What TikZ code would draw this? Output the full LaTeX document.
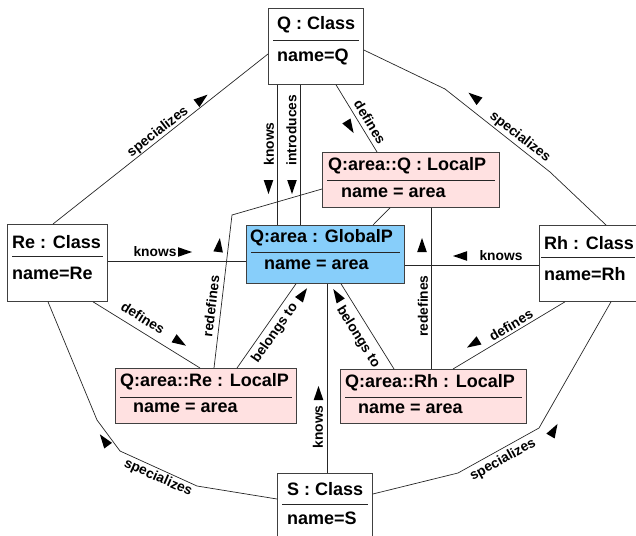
\documentclass[tikz,border=0pt]{standalone}
\usepackage{fontspec}
\setmainfont{Liberation Sans}
\usetikzlibrary{calc}
\definecolor{globblue}{RGB}{135,206,250}
\definecolor{locpink}{RGB}{255,225,225}
\begin{document}
\begin{tikzpicture}[x=1pt,y=-1pt,
	headtri/.pic={\fill[black] (7,0) -- (-7,4.8) -- (-7,-4.8) -- cycle;}]
	\tikzstyle{cls} = [rectangle,draw=black!75,line width=0.8pt,anchor=north west,inner sep=0pt,
	minimum width=95pt,minimum height=76pt,fill=white]
	\tikzstyle{glob} = [cls,fill=globblue,minimum width=158pt,minimum height=58pt]
	\tikzstyle{loc} = [cls,fill=locpink,minimum height=55pt]
	\tikzstyle{ttl} = [anchor=west,inner sep=0pt,font=\bfseries\fontsize{18}{20}\selectfont]
	\tikzstyle{sepline} = [draw=black!85,line width=0.8pt]
	\tikzstyle{link} = [draw=black!85,line width=0.7pt]
	\tikzstyle{lbl} = [inner sep=0pt,font=\bfseries\fontsize{13.8}{15}\selectfont]

	\useasboundingbox (0,0) rectangle (636,535);

	\node (Q) [cls] at (268,8) {};
	\node (Qt) [ttl] at ($(Q.north west)+(9,17)$) {Q : Class};
	\draw [sepline] ($(Q.north west)+(5,32)$) -- ($(Q.north east)+(-5,32)$);
	\node (Qn) [ttl] at ($(Q.north west)+(9,49)$) {name=Q};

	\node (Re) [cls,minimum width=100pt,minimum height=77pt] at (7,224) {};
	\node (Ret) [ttl] at ($(Re.north west)+(5,18)$) {Re : Class};
	\draw [sepline] ($(Re.north west)+(5,32)$) -- ($(Re.north east)+(-5,32)$);
	\node (Ren) [ttl] at ($(Re.north west)+(5,49)$) {name=Re};

	\node (Rh) [cls,minimum width=100pt] at (539,225) {};
	\node (Rht) [ttl] at ($(Rh.north west)+(5,18)$) {Rh : Class};
	\draw [sepline] ($(Rh.north west)+(2,32)$) -- ($(Rh.north east)+(-5,32)$);
	\node (Rhn) [ttl] at ($(Rh.north west)+(5,49)$) {name=Rh};

	\node (S) [cls] at (277,473) {};
	\node (St) [ttl] at ($(S.north west)+(10,16)$) {S : Class};
	\draw [sepline] ($(S.north west)+(5,31)$) -- ($(S.north east)+(-5,31)$);
	\node (Sn) [ttl] at ($(S.north west)+(10,45)$) {name=S};

	\node (G) [glob] at (246,225) {};
	\node (Gt) [ttl] at ($(G.north west)+(4,13)$) {Q:area : GlobalP};
	\draw [sepline] ($(G.north west)+(5,27)$) -- ($(G.north east)+(-5,27)$);
	\node (Gn) [ttl] at ($(G.north west)+(18,40)$) {name = area};

	\node (LQ) [loc,minimum width=177pt] at (322,152) {};
	\node (LQt) [ttl] at ($(LQ.north west)+(6,14)$) {Q:area::Q : LocalP};
	\draw [sepline] ($(LQ.north west)+(5,28)$) -- ($(LQ.north east)+(-5,28)$);
	\node (LQn) [ttl] at ($(LQ.north west)+(19,41)$) {name = area};

	\node (LRe) [loc,minimum width=181pt] at (115,368) {};
	\node (LRet) [ttl] at ($(LRe.north west)+(5,14)$) {Q:area::Re : LocalP};
	\draw [sepline] ($(LRe.north west)+(5,29)$) -- ($(LRe.north east)+(-5,29)$);
	\node (LRen) [ttl] at ($(LRe.north west)+(18,40)$) {name = area};

	\node (LRh) [loc,minimum width=186pt,minimum height=54pt] at (340,369) {};
	\node (LRht) [ttl] at ($(LRh.north west)+(5,14)$) {Q:area::Rh : LocalP};
	\draw [sepline] ($(LRh.north west)+(5,28)$) -- ($(LRh.north east)+(-5,28)$);
	\node (LRhn) [ttl] at ($(LRh.north west)+(18,40)$) {name = area};

	\draw [link] ($(Q.south west)+(9,0)$) -- ($(G.north west)+(31,0)$);
	\draw [link] ($(Q.south west)+(32,0)$) -- ($(G.north west)+(54,0)$);
	\draw [link] ($(Q.south west)+(68,0)$) -- ($(LQ.north west)+(55,0)$);
	\draw [link] ($(LQ.south west)+(68,0)$) -- ($(G.north west)+(127,0)$);
	\draw [link] ($(LQ.north west)+(0,37)$) -- (232,215) -- ($(LRe.north west)+(99,0)$);
	\draw [link] ($(LQ.south west)+(109,0)$) -- ($(LRh.north west)+(91,0)$);
	\draw [link] ($(Re.north east)+(0,37)$) -- ($(G.north west)+(0,36)$);
	\draw [link] ($(G.north east)+(0,40)$) -- ($(Rh.north west)+(0,40)$);
	\draw [link] ($(Re.south west)+(86,0)$) -- ($(LRe.north west)+(85,0)$);
	\draw [link] ($(Rh.south west)+(26,0)$) -- ($(LRh.north west)+(113,0)$);
	\draw [link] ($(LRe.north west)+(122,0)$) -- ($(G.south west)+(50,0)$);
	\draw [link] ($(LRh.north west)+(54,0)$) -- ($(G.south west)+(95,0)$);
	\draw [link] ($(S.north west)+(50,0)$) -- ($(G.south west)+(81,0)$);
	\draw [link] ($(Q.north west)+(0,46)$) -- ($(Re.north west)+(46,0)$);
	\draw [link] ($(Q.north east)+(0,42)$) -- (445,89) -- (550,172) -- ($(Rh.north west)+(67,0)$);
	\draw [link] ($(Re.south west)+(41,0)$) -- (97,420) -- (120,451) -- (197,486) -- ($(S.north west)+(0,26)$);
	\draw [link] ($(Rh.south west)+(72,0)$) -- (539,428) -- (458,473) -- ($(S.north east)+(0,21)$);

	\node (l1) [lbl,rotate=90] at (269,144) {knows};
	\pic [rotate=-90] at (268.5,187) {headtri};
	\node (l2) [lbl,rotate=90] at (291.5,130) {introduces};
	\pic [rotate=-90] at (292,187) {headtri};
	\node (l3) [lbl,rotate=-59] at (370,122) {defines};
	\pic [rotate=-59] at (350,127) {headtri};
	\node (l4) [lbl,rotate=83] at (211,306) {redefines};
	\pic [rotate=83] at (219,245) {headtri};
	\node (l5) [lbl,rotate=90] at (423,306) {redefines};
	\pic [rotate=90] at (422,245) {headtri};
	\node (l6) [lbl] at (155,252) {knows};
	\pic at (185,252) {headtri};
	\node (l7) [lbl] at (501,256) {knows};
	\pic [rotate=180] at (460,256) {headtri};
	\node (l8) [lbl,rotate=-32] at (143,318) {defines};
	\pic [rotate=-32] at (180,342) {headtri};
	\node (l9) [lbl,rotate=31] at (511,325) {defines};
	\pic [rotate=211] at (473,344) {headtri};
	\node (l10) [lbl,rotate=55] at (275,333) {belongs to};
	\pic [rotate=55] at (303,294) {headtri};
	\node (l11) [lbl,rotate=-58] at (358,337) {belongs to};
	\pic [rotate=122] at (337,295) {headtri};
	\node (l12) [lbl,rotate=90] at (318,427) {knows};
	\pic [rotate=90] at (318.5,393) {headtri};
	\node (l13) [lbl,rotate=38] at (158,132) {specializes};
	\pic [rotate=38] at (202,99) {headtri};
	\node (l14) [lbl,rotate=-38] at (520,137) {specializes};
	\pic [rotate=142] at (474,97) {headtri};
	\node (l15) [lbl,rotate=-24] at (158,478) {specializes};
	\pic [rotate=126] at (104,440) {headtri};
	\node (l16) [lbl,rotate=29] at (503,460) {specializes};
	\pic [rotate=60] at (554,430) {headtri};
\end{tikzpicture}
\end{document}
